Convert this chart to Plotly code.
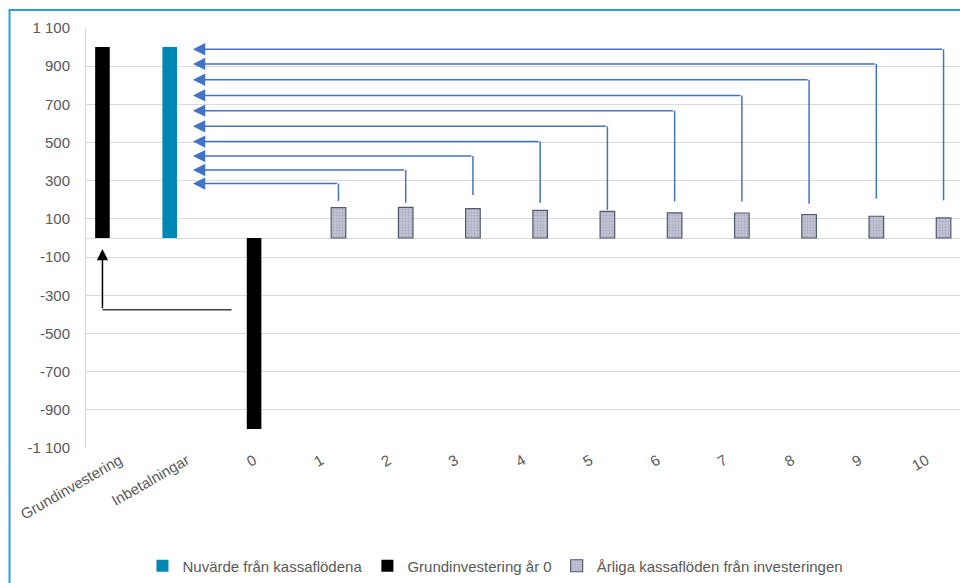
import plotly.graph_objects as go

# Categories along the horizontal axis
categories = ["Grundinvestering", "Inbetalningar", "0", "1", "2", "3", "4", "5", "6", "7", "8", "9", "10"]

# Series values
present_value = {"Inbetalningar": 1000}          # Nuvärde från kassaflödena
initial_outlay_ref = {"Grundinvestering": 1000}  # Grundinvestering (reference column)
initial_outlay_year0 = {"0": -1000}              # Grundinvestering år 0
years = ["1", "2", "3", "4", "5", "6", "7", "8", "9", "10"]
annual_cashflows = [159, 160, 154, 145, 139, 132, 131, 123, 114, 105]

# Connector arrows: start height above each yearly bar and level of the arrow shaft
arrow_start = [194, 185, 225, 185, 147, 192, 191, 180, 206, 197]
arrow_level = [285, 356, 429, 505, 585, 667, 747, 829, 912, 989]

# Return arrow from year 0 back to the Grundinvestering column
return_arrow_level = -376
return_arrow_tip = -58

# Y ticks
y_ticks = [-1100, -900, -700, -500, -300, -100, 100, 300, 500, 700, 900, 1100]
y_tick_text = ["-1 100", "-900", "-700", "-500", "-300", "-100", "100", "300", "500", "700", "900", "1 100"]

TEAL = "#0087b5"
BLACK = "#000000"
GRAY_FILL = "#c3c4d4"
GRAY_LINE = "#535872"
ARROW_BLUE = "#4472c4"
TEXT = "#595959"
GRID = "#d9d9d9"

fig = go.Figure()

fig.add_trace(go.Bar(
    name="Nuvärde från kassaflödena",
    x=list(present_value.keys()), y=list(present_value.values()),
    marker=dict(color=TEAL, line=dict(width=0)),
    offsetgroup="a", alignmentgroup="g",
))
fig.add_trace(go.Bar(
    name="Grundinvestering",
    x=list(initial_outlay_ref.keys()), y=list(initial_outlay_ref.values()),
    marker=dict(color=BLACK, line=dict(width=0)),
    offsetgroup="a", alignmentgroup="g", showlegend=False,
))
fig.add_trace(go.Bar(
    name="Grundinvestering år 0",
    x=list(initial_outlay_year0.keys()), y=list(initial_outlay_year0.values()),
    marker=dict(color=BLACK, line=dict(width=0)),
    offsetgroup="b", alignmentgroup="g",
))
fig.add_trace(go.Bar(
    name="Årliga kassaflöden från investeringen",
    x=years, y=annual_cashflows,
    marker=dict(
        color=GRAY_FILL,
        line=dict(color=GRAY_LINE, width=1.2),
        pattern=dict(shape=".", fgcolor="#8a8ea8", bgcolor=GRAY_FILL, size=3, solidity=0.3),
    ),
    offsetgroup="c", alignmentgroup="g",
))

# Position of the third slot in each category group (fraction of a category)
bargap = 0.234
slot = (1 - bargap) / 3
tip_x = 1.09

shapes = []
annotations = []
for yr, start, level in zip(years, arrow_start, arrow_level):
    xc = categories.index(yr) + slot
    shapes.append(dict(type="line", xref="x", yref="y", x0=xc, x1=xc, y0=start, y1=level,
                       line=dict(color=ARROW_BLUE, width=1.5)))
    annotations.append(dict(xref="x", yref="y", axref="x", ayref="y",
                            x=tip_x, y=level, ax=xc, ay=level, text="",
                            showarrow=True, arrowhead=2, arrowsize=1.65, arrowwidth=1.5,
                            arrowcolor=ARROW_BLUE))

# Return arrow: from beside year 0 over to the Grundinvestering column and up
x_right = categories.index("0") - 0.335
x_left = categories.index("Grundinvestering") - slot
shapes.append(dict(type="line", xref="x", yref="y", x0=x_right, x1=x_left,
                   y0=return_arrow_level, y1=return_arrow_level,
                   line=dict(color="#404040", width=1.5)))
annotations.append(dict(xref="x", yref="y", axref="x", ayref="y",
                        x=x_left, y=return_arrow_tip, ax=x_left, ay=return_arrow_level, text="",
                        showarrow=True, arrowhead=2, arrowsize=1.5, arrowwidth=1.5,
                        arrowcolor="#000000"))

# Chart frame
shapes.append(dict(type="rect", xref="paper", yref="paper", x0=-0.0875, x1=1.05, y0=-0.5, y1=1.0427,
                   line=dict(color="#2d9fcf", width=2), fillcolor="rgba(0,0,0,0)", layer="below"))

fig.update_layout(
    width=960, height=583,
    margin=dict(l=86, r=0, t=28, b=133),
    paper_bgcolor="white", plot_bgcolor="white",
    font=dict(family="Liberation Sans, Arial, sans-serif", size=15, color=TEXT),
    barmode="group", bargap=bargap, bargroupgap=0.15,
    shapes=shapes, annotations=annotations,
    legend=dict(orientation="h", x=0.4685, xanchor="center", y=-0.281, yanchor="middle",
                bgcolor="rgba(0,0,0,0)", font=dict(size=15, color=TEXT), traceorder="normal"),
    xaxis=dict(type="category", categoryorder="array", categoryarray=categories,
               range=[-0.5, 12.5], showgrid=False, showline=False, ticks="",
               tickangle=-30, tickfont=dict(size=15, color=TEXT)),
    yaxis=dict(range=[-1100, 1100], tickvals=y_ticks, ticktext=y_tick_text,
               showgrid=True, gridcolor=GRID, gridwidth=1,
               zeroline=True, zerolinecolor=GRID, zerolinewidth=1,
               showline=True, linecolor=GRID, linewidth=1,
               ticks="", ticklabelstandoff=12, tickfont=dict(size=15, color=TEXT)),
)

fig.write_html("out.html")
